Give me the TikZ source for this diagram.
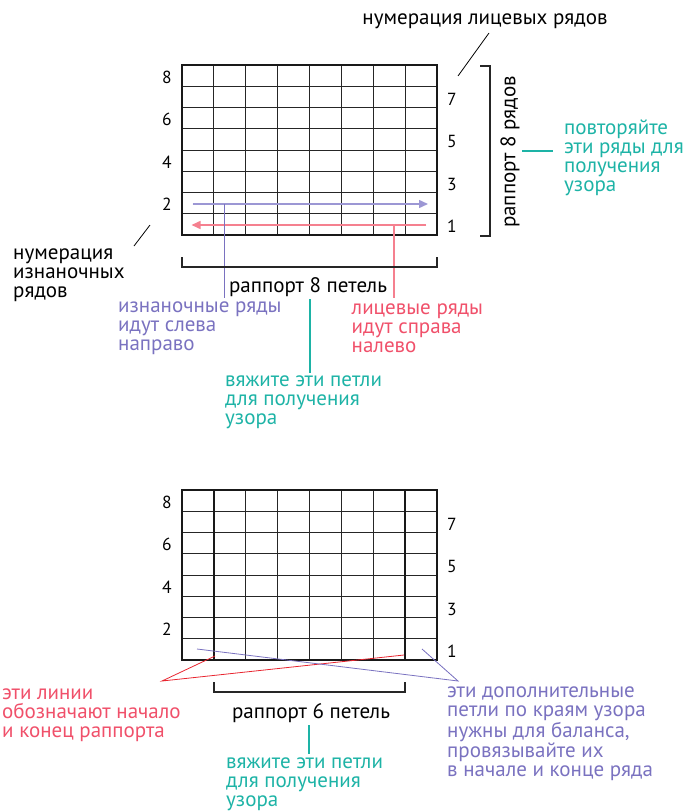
\documentclass[tikz,border=0pt]{standalone}
\usepackage{fontspec}
\setmainfont{PT Sans}
\usetikzlibrary{arrows.meta}
\definecolor{cpurple}{HTML}{7A72C0}
\definecolor{cpurpleline}{HTML}{9C97D4}
\definecolor{cred}{HTML}{F0506A}
\definecolor{credline}{HTML}{F5808F}
\definecolor{credthin}{HTML}{E8252F}
\definecolor{cteal}{HTML}{1DB3A6}
\tikzset{
  txt/.style={inner sep=0pt, font=\fontsize{21}{19}\selectfont, align=left},
  num/.style={inner sep=0pt, font=\fontsize{17.5}{19}\selectfont},
  gridline/.style={line width=1pt, draw=black!85},
  border/.style={line width=2.7pt, draw=black!90},
  brack/.style={line width=1.6pt, draw=black!85},
  thinline/.style={line width=0.8pt},
  arrowline/.style={line width=1.5pt, -{Triangle[length=9pt,width=8pt]}},
}
\begin{document}
\begin{tikzpicture}[x=1pt,y=-1pt]
\useasboundingbox (0,0) rectangle (686,811);
% ---------- top grid ----------
\foreach \i in {1,...,7} {
  \draw[gridline] ({182+\i*31.875},65) -- ({182+\i*31.875},235);
  \draw[gridline] (182,{65+\i*21.25}) -- (437,{65+\i*21.25});
}
\draw[border] (182,65) rectangle (437,235);
% row numbers
\foreach \n/\y in {8/77,6/119.5,4/162,2/204.5} \node[num] (tl\n) at (167,\y) {\n};
\foreach \n/\y in {7/99,5/141.5,3/184,1/226.5} \node[num] (tr\n) at (452,\y) {\n};
% arrows
\coordinate (pa1) at (192.5,204); \coordinate (pa2) at (428,204);
\coordinate (ra1) at (426,225); \coordinate (ra2) at (191.5,225);
\draw[arrowline, draw=cpurpleline, fill=cpurple!80] (pa1) -- (pa2);
\draw[arrowline, draw=credline, fill=cred] (ra1) -- (ra2);
\coordinate (pv1) at (224.5,204); \coordinate (pv2) at (224.5,298);
\coordinate (rv1) at (394,225); \coordinate (rv2) at (394,298);
\draw[line width=1.2pt, draw=cpurple] (pv1) -- (pv2);
\draw[line width=1.2pt, draw=credline] (rv1) -- (rv2);
% bracket under grid
\coordinate (b1a) at (182,257); \coordinate (b1b) at (182,267);
\coordinate (b1c) at (437,267); \coordinate (b1d) at (437,257);
\draw[brack] (b1a) -- (b1b) -- (b1c) -- (b1d);
\node[txt] (rap8) at (308,287) {раппорт 8 петель};
\coordinate (tv1) at (310,299); \coordinate (tv2) at (310,373);
\draw[line width=1.2pt, draw=cteal] (tv1) -- (tv2);
\node[txt, anchor=west, text=cpurple] (izn) at (118,328) {изнаночные ряды\\идут слева\\направо};
\node[txt, anchor=west, text=cred] (lic) at (351.5,328) {лицевые ряды\\идут справа\\налево};
\node[txt, anchor=west, text=cteal] (vya1) at (225,402) {вяжите эти петли\\для получения\\узора};
\node[txt, anchor=west] (numizn) at (13,275.5) {нумерация\\изнаночных\\рядов};
\coordinate (sl1a) at (134,246); \coordinate (sl1b) at (150,225);
\draw[thinline] (sl1a) -- (sl1b);
\node[txt] (numlic) at (485,21) {нумерация лицевых рядов};
\coordinate (sl2a) at (458,76); \coordinate (sl2b) at (489,33);
\draw[thinline] (sl2a) -- (sl2b);
% right bracket
\coordinate (rb1) at (480,66); \coordinate (rb2) at (490,66);
\coordinate (rb3) at (490,236); \coordinate (rb4) at (480,236);
\draw[brack] (rb1) -- (rb2) -- (rb3) -- (rb4);
\node[txt, rotate=90] (rap8r) at (510,152) {раппорт 8 рядов};
\coordinate (th1) at (522,151); \coordinate (th2) at (553,151);
\draw[line width=1.2pt, draw=cteal] (th1) -- (th2);
\node[txt, anchor=west, text=cteal] (povt) at (564,157.5) {повторяйте\\эти ряды для\\получения\\узора};
% ---------- bottom grid ----------
\foreach \i in {1,...,7} {
  \draw[gridline] ({182+\i*31.875},490) -- ({182+\i*31.875},660);
  \draw[gridline] (182,{490+\i*21.25}) -- (437,{490+\i*21.25});
}
\draw[border] (213.875,490) -- (213.875,660);
\draw[border] (405.125,490) -- (405.125,660);
\draw[border] (182,490) rectangle (437,660);
\foreach \n/\y in {8/502,6/544.5,4/587,2/629.5} \node[num] (bl\n) at (167,\y) {\n};
\foreach \n/\y in {7/524,5/566.5,3/609,1/651.5} \node[num] (br\n) at (452,\y) {\n};
% red lines
\coordinate (rc) at (162,681);
\coordinate (rl1) at (215,656); \coordinate (rl2) at (404,655);
\draw[thinline, draw=credthin] (rl1) -- (rc) -- (rl2);
% purple lines
\coordinate (pc) at (458,681);
\coordinate (pl1) at (197,649); \coordinate (pl2) at (422,649);
\draw[thinline, draw=cpurple] (pl1) -- (pc) -- (pl2);
% bracket
\coordinate (b2a) at (214,682); \coordinate (b2b) at (214,692);
\coordinate (b2c) at (405,692); \coordinate (b2d) at (405,682);
\draw[brack] (b2a) -- (b2b) -- (b2c) -- (b2d);
\node[txt] (rap6) at (311,713) {раппорт 6 петель};
\coordinate (tv3) at (309,725); \coordinate (tv4) at (309,754);
\draw[line width=1.2pt, draw=cteal] (tv3) -- (tv4);
\node[txt, anchor=west, text=cteal] (vya2) at (226,784) {вяжите эти петли\\для получения\\узора};
\node[txt, anchor=west, text=cred] (lines) at (2,715) {эти линии\\обозначают начало\\и конец раппорта};
\node[txt, anchor=west, text=cpurple] (extra) at (447,734) {эти дополнительные\\петли по краям узора\\нужны для баланса,\\провязывайте их\\в начале и конце ряда};
\end{tikzpicture}
\end{document}
